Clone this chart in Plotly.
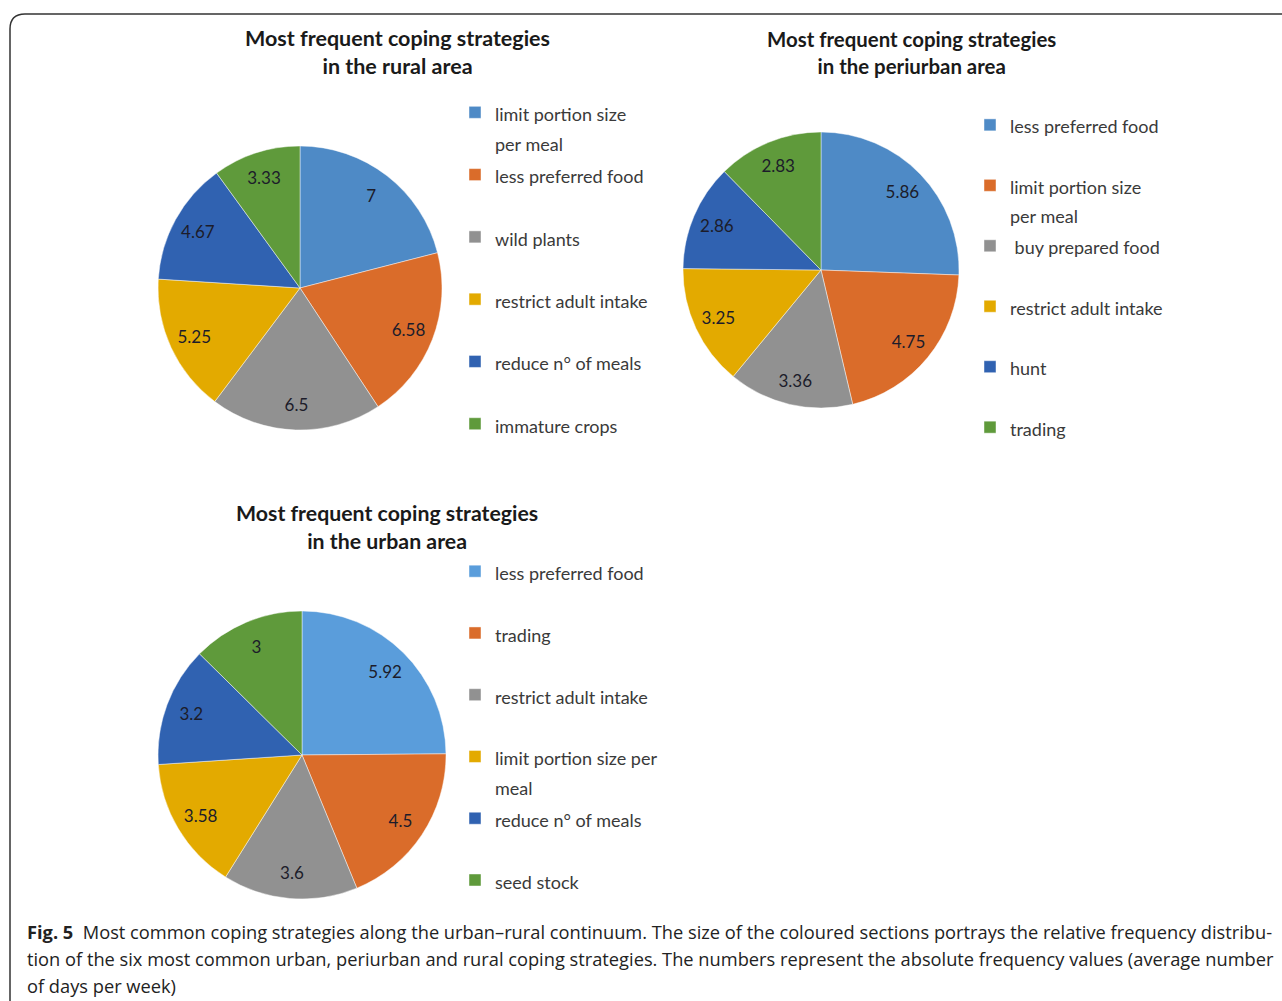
import plotly.graph_objects as go

W, H = 1282, 1001

# ---------------- data ----------------
rural_labels = ["limit portion size<br>per meal", "less preferred food", "wild plants",
                "restrict adult intake", "reduce n° of meals", "immature crops"]
rural_values = [7, 6.58, 6.5, 5.25, 4.67, 3.33]

peri_labels = ["less preferred food", "limit portion size<br>per meal", " buy prepared food",
               "restrict adult intake", "hunt", "trading"]
peri_values = [5.86, 4.75, 3.36, 3.25, 2.86, 2.83]

urban_labels = ["less preferred food", "trading", "restrict adult intake",
                "limit portion size per<br>meal", "reduce n° of meals", "seed stock"]
urban_values = [5.92, 4.5, 3.6, 3.58, 3.2, 3]

rural_title = "Most frequent coping strategies<br>in the rural area"
peri_title = "Most frequent coping strategies<br>in the periurban area"
urban_title = "Most frequent coping strategies<br>in the urban area"

caption_lines = [
    "<b>Fig. 5</b>  Most common coping strategies along the urban–rural continuum. The size of the coloured sections portrays the relative frequency distribu-",
    "tion of the six most common urban, periurban and rural coping strategies. The numbers represent the absolute frequency values (average number",
    "of days per week)",
]

# ---------------- styles ----------------
colors_a = ["#4E8AC6", "#DA6C2A", "#919191", "#E3AA00", "#3062B1", "#5F9A3B"]
colors_u = ["#5A9DDB", "#DA6C2A", "#919191", "#E3AA00", "#3062B1", "#5F9A3B"]

def px_x(v):
    return v / W

def px_y(v):
    return 1 - v / H

def domain(cx, cy, d):
    return dict(x=[px_x(cx - d / 2), px_x(cx + d / 2)],
                y=[px_y(cy + d / 2), px_y(cy - d / 2)])

def legend_labels(labels, size):
    # size differs imperceptibly per pie so that slice labels stay distinct between pies
    out = []
    for i, l in enumerate(labels):
        lines = l.split("<br>")
        body = "<br>".join(f"<span style='font-size:{size}px'>{s}</span>" for s in lines)
        if i < len(labels) - 1:
            body += "<br> " * (2 - len(lines))
        out.append(body)
    return out

def add_pie(fig, labels, values, colors, dom, legend, size):
    labs = legend_labels(labels, size)
    fig.add_trace(go.Pie(
        labels=labs, values=values, textinfo="none",
        sort=False, direction="clockwise", rotation=0,
        marker=dict(colors=colors, line=dict(color="rgba(255,255,255,0.45)", width=1)),
        domain=dom, legend=legend, showlegend=True, hoverinfo="value",
    ))
    # value labels placed in the outer ring, as in the original
    fig.add_trace(go.Pie(
        labels=labs, values=values, text=[str(v) for v in values],
        textinfo="text", textposition="inside", insidetextorientation="horizontal",
        sort=False, direction="clockwise", rotation=0, hole=0.64,
        marker=dict(colors=["rgba(0,0,0,0)"] * len(values), line=dict(width=0)),
        textfont=dict(family="Lato, sans-serif", size=17, color="#1c1c2a"),
        domain=dom, legend=legend, showlegend=False, hoverinfo="skip",
    ))

fig = go.Figure()
add_pie(fig, rural_labels, rural_values, colors_a, domain(300, 288, 284), "legend", 18)
add_pie(fig, peri_labels, peri_values, colors_a, domain(821, 270, 276), "legend2", 18.01)
add_pie(fig, urban_labels, urban_values, colors_u, domain(302, 755, 288), "legend3", 18.02)

def legend_cfg(x, y, fs):
    return dict(x=px_x(x), y=px_y(y), xanchor="left", yanchor="top",
                font=dict(family="Lato, sans-serif", size=fs, color="#3a3a3a"),
                bgcolor="rgba(0,0,0,0)", valign="top", itemclick=False,
                traceorder="normal", tracegroupgap=0, itemwidth=30)

def title(text, x, y, size):
    return dict(text="<b>" + text + "</b>", x=px_x(x), y=px_y(y), xref="paper", yref="paper",
                showarrow=False, font=dict(family="Lato, sans-serif", size=size, color="#1a1a1a"),
                align="center", xanchor="center", yanchor="middle")

annotations = [
    title(rural_title, 397, 52, 21.5),
    title(peri_title, 911, 52, 20.4),
    title(urban_title, 387, 527, 21.3),
    dict(text="<br>".join(f"<span style='font-size:18.25px'>{s}</span>" for s in caption_lines),
         x=px_x(25), y=px_y(958), xref="paper", yref="paper",
         showarrow=False, font=dict(family="Open Sans, sans-serif", size=20.8, color="#222"),
         align="left", xanchor="left", yanchor="middle"),
]

border = dict(type="path", xref="paper", yref="paper",
              path=(f"M {px_x(10)},{px_y(1001)} L {px_x(10)},{px_y(29)} "
                    f"Q {px_x(10)},{px_y(14)} {px_x(25)},{px_y(14)} L {px_x(1282)},{px_y(14)}"),
              line=dict(color="#333333", width=1.5))

fig.update_layout(
    width=W, height=H, margin=dict(l=0, r=0, t=0, b=0),
    paper_bgcolor="white", plot_bgcolor="white",
    legend=legend_cfg(455, 91, 22.8),
    legend2=legend_cfg(970, 104, 22.1),
    legend3=legend_cfg(455, 550, 22.6),
    annotations=annotations, shapes=[border],
)

fig.write_html("out.html")
